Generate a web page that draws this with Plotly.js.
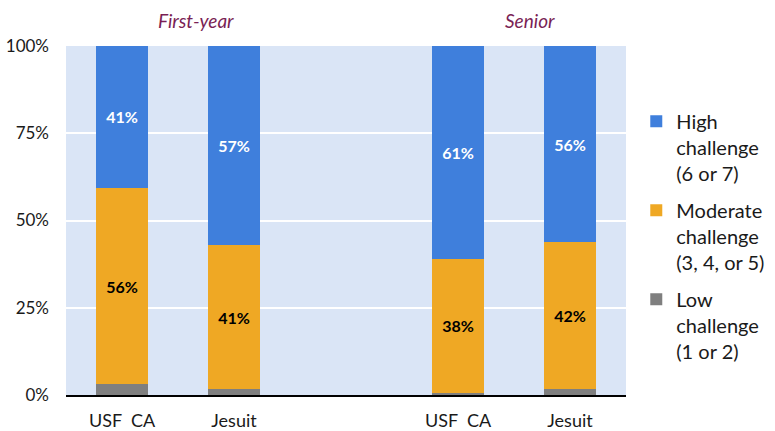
<!DOCTYPE html>
<html><head><meta charset="utf-8">
<script src="https://cdn.plot.ly/plotly-3.0.1.min.js"></script>
<style>html,body{margin:0;padding:0;background:#fff;}#chart{width:775px;height:431px;}</style>
</head><body><div id="chart"></div>
<script>
const positions = [0, 1, 3, 4];
const tickLabels = ["USF\u00a0 CA", "Jesuit", "USF\u00a0 CA", "Jesuit"];
const groupTitles = ["First-year", "Senior"];
const lowVals = [3.2, 1.6, 0.6, 1.8];
const moderateVals = [56, 41.4, 38.4, 42];
const highVals = [41, 57, 61, 56.2];
const seriesNames = ["Low<br>challenge<br>(1 or 2)", "Moderate<br>challenge<br>(3, 4, or 5)", "High<br>challenge<br>(6 or 7)"];
const colors = ["#7f7f7f", "#efa824", "#3f7fdc"];

const font = "Lato, 'Open Sans', sans-serif";
function mk(vals, i, showText, textColor) {
  return {
    type: "bar", x: positions, y: vals, name: seriesNames[i],
    marker: {color: colors[i]}, width: 0.46,
    legendgroup: "g" + i, legendrank: 1000 - i,
    text: showText ? vals.map(v => Math.round(v) + "%") : undefined,
    textposition: showText ? "inside" : "none",
    insidetextanchor: "middle",
    textfont: {family: font, size: 16, color: textColor, weight: "bold"},
    hoverinfo: "none"
  };
}
const data = [
  mk(lowVals, 0, false, "#000"),
  mk(moderateVals, 1, true, "#000"),
  mk(highVals, 2, true, "#fff")
];
const layout = {
  width: 775, height: 431,
  margin: {l: 66, r: 149, t: 46, b: 36, autoexpand: false},
  barmode: "stack",
  paper_bgcolor: "#fff", plot_bgcolor: "#dae5f6",
  font: {family: font, size: 17, color: "#1a1a1a"},
  xaxis: {tickvals: positions, ticktext: tickLabels, range: [-0.5, 4.5],
          showgrid: false, zeroline: false, showline: true, linecolor: "#000", linewidth: 2,
          ticks: "", tickfont: {size: 18}, ticklabelstandoff: 8, fixedrange: true},
  yaxis: {range: [0, 100], tickvals: [0, 25, 50, 75, 100], ticktext: ["0%", "25%", "50%", "75%", "100%"],
          gridcolor: "#ffffff", gridwidth: 2, zeroline: false, showline: false, ticks: "",
          ticklabelstandoff: 16, tickfont: {size: 17}},
  showlegend: true,
  legend: {xref: "container", yref: "container", x: 0.821, xanchor: "left", y: 0.764, yanchor: "top",
           traceorder: "grouped", valign: "top", tracegroupgap: 8, maxheight: 1,
           font: {size: 20, color: "#1a1a1a"}, itemwidth: 30, bgcolor: "rgba(0,0,0,0)"},
  annotations: [
    {text: "<i>" + groupTitles[0] + "</i>", x: 0.66, xref: "x", y: 1, yref: "paper", yanchor: "bottom", yshift: 12,
     showarrow: false, font: {size: 19, color: "#7a1f55"}},
    {text: "<i>" + groupTitles[1] + "</i>", x: 3.64, xref: "x", y: 1, yref: "paper", yanchor: "bottom", yshift: 12,
     showarrow: false, font: {size: 19, color: "#7a1f55"}}
  ]
};
Plotly.newPlot("chart", data, layout, {displayModeBar: false, staticPlot: true});
</script></body></html>
